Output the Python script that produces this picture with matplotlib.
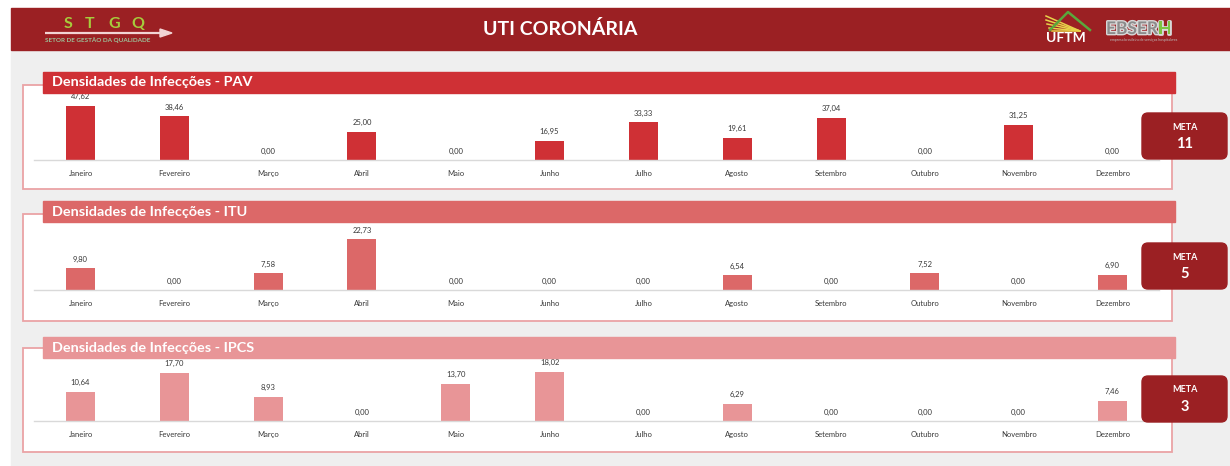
import matplotlib.pyplot as plt
from matplotlib.patches import Rectangle, FancyBboxPatch, Polygon
import matplotlib.patheffects as pe

plt.rcParams['font.family'] = ['Lato', 'DejaVu Sans']

W, H = 1230, 466

meses = ["Janeiro", "Fevereiro", "Março", "Abril", "Maio", "Junho",
         "Julho", "Agosto", "Setembro", "Outubro", "Novembro", "Dezembro"]
pav = [47.62, 38.46, 0.00, 25.00, 0.00, 16.95, 33.33, 19.61, 37.04, 0.00, 31.25, 0.00]
itu = [9.80, 0.00, 7.58, 22.73, 0.00, 0.00, 0.00, 6.54, 0.00, 7.52, 0.00, 6.90]
ipcs = [10.64, 17.70, 8.93, 0.00, 13.70, 18.02, 0.00, 6.29, 0.00, 0.00, 0.00, 7.46]
titulos = ["Densidades de Infecções - PAV",
           "Densidades de Infecções - ITU",
           "Densidades de Infecções - IPCS"]
metas = ["11", "5", "3"]

cores = ["#cf3035", "#dc6868", "#e89597"]
vermelho = "#9b2023"

# (topo barra titulo, topo caixa, base caixa, linha base, topo meta, folga y)
paineis = [
    (72, 85, 189, 160, 113, 1.24),
    (201, 214, 321, 290, 243, 1.34),
    (337, 348, 452, 421, 376, 1.28),
]


def fmt(v):
    return f"{v:.2f}".replace(".", ",")


fig = plt.figure(figsize=(W / 100, H / 100), dpi=100)
fig.patch.set_facecolor("white")

# fundo desenhado em pixels
bg = fig.add_axes([0, 0, 1, 1], zorder=-1)
bg.set_xlim(0, W)
bg.set_ylim(H, 0)
bg.axis("off")
bg.add_patch(Rectangle((11, 50), W - 11, H - 50, color="#efefef"))
bg.add_patch(Rectangle((11, 8), W - 11, 42, color=vermelho))
bg.text(560, 29, "UTI CORONÁRIA", color="white", fontsize=14,
        fontweight="bold", ha="center", va="center")

# logo STGQ
for x, letra in zip([68, 90, 114, 138], "STGQ"):
    bg.text(x, 24, letra, color="#a6cc3c", fontsize=11.5, fontweight="bold",
            ha="center", va="center")
bg.plot([45, 162], [33, 33], color="#f2d4d4", lw=1.6, solid_capstyle="butt")
bg.add_patch(Polygon([[160, 29], [172, 33], [160, 37]], color="#f2d4d4"))
bg.text(45, 40, "SETOR DE GESTÃO DA QUALIDADE", color="#9cc29a", fontsize=4.6,
        fontweight="bold", ha="left", va="center")

# logo UFTM
for x0, y0 in [(1046, 16), (1046, 20), (1047, 24), (1049, 28), (1052, 31)]:
    bg.plot([x0, 1080], [y0, 31], color="#e8d24a", lw=1.1)
bg.plot([1050, 1068, 1090], [30, 12, 30], color="#5aa83c", lw=1.8)
bg.text(1066, 38, "UFTM", color="white", fontsize=10, fontweight="bold",
        ha="center", va="center")

# logo EBSERH
contorno = [pe.withStroke(linewidth=2, foreground="#d8d8d8")]
eb = bg.text(1106, 29, "EBSER", color="#8c8c8c", fontsize=12.5,
             fontweight="bold", ha="left", va="center", path_effects=contorno)
bg.annotate("H", xy=(1, 0.5), xycoords=eb, color="#7dc242", fontsize=12.5,
            fontweight="bold", ha="left", va="center", path_effects=contorno)
bg.text(1144, 40, "empresa brasileira de serviços hospitalares", color="#bdbdbd",
        fontsize=2.6, ha="center", va="center")

# camada de cima para barras de titulo e metas
top = fig.add_axes([0, 0, 1, 1], zorder=2)
top.set_xlim(0, W)
top.set_ylim(H, 0)
top.axis("off")
top.patch.set_alpha(0)

x0, x1 = 33.6, 1159.4
for dados, titulo, meta, cor, (tt, bt, bb, base, mt, folga) in zip(
        [pav, itu, ipcs], titulos, metas, cores, paineis):
    bg.add_patch(Rectangle((23, bt), 1172 - 23, bb - bt, facecolor="white",
                           edgecolor="#eaa3a5", lw=1.3))

    alto = base - (tt + 21)
    ax = fig.add_axes([x0 / W, 1 - base / H, (x1 - x0) / W, alto / H], zorder=1)
    ax.patch.set_alpha(0)
    ax.bar(range(len(meses)), dados, width=0.31, color=cor)
    for i, v in enumerate(dados):
        ax.annotate(fmt(v), (i, v), xytext=(0, 6.5), textcoords="offset points",
                    ha="center", va="center", fontsize=5.5, color="#383838",
                    annotation_clip=False)
    ax.set_xlim(-0.5, len(meses) - 0.5)
    ax.set_ylim(0, max(dados) * folga)
    ax.set_xticks(range(len(meses)))
    ax.set_xticklabels(meses, fontsize=5.5, color="#383838")
    ax.set_yticks([])
    ax.tick_params(axis="x", length=0, pad=7)
    for s in ["top", "left", "right"]:
        ax.spines[s].set_visible(False)
    ax.spines["bottom"].set_color("#d9d9d9")
    ax.spines["bottom"].set_linewidth(1)

    top.add_patch(Rectangle((43, tt), 1175 - 43, 21, color=cor))
    top.text(52, tt + 10.5, titulo, color="white", fontsize=10.4,
             fontweight="bold", ha="left", va="center")

    top.add_patch(FancyBboxPatch((1142, mt), 85, 46,
                                 boxstyle="round,pad=0,rounding_size=6",
                                 color=vermelho))
    top.text(1184.5, mt + 14, "META", color="white", fontsize=6.5,
             fontweight="bold", ha="center", va="center")
    top.text(1184.5, mt + 31, meta, color="white", fontsize=10.5,
             fontweight="bold", ha="center", va="center")

fig.savefig("out.png", dpi=100)
